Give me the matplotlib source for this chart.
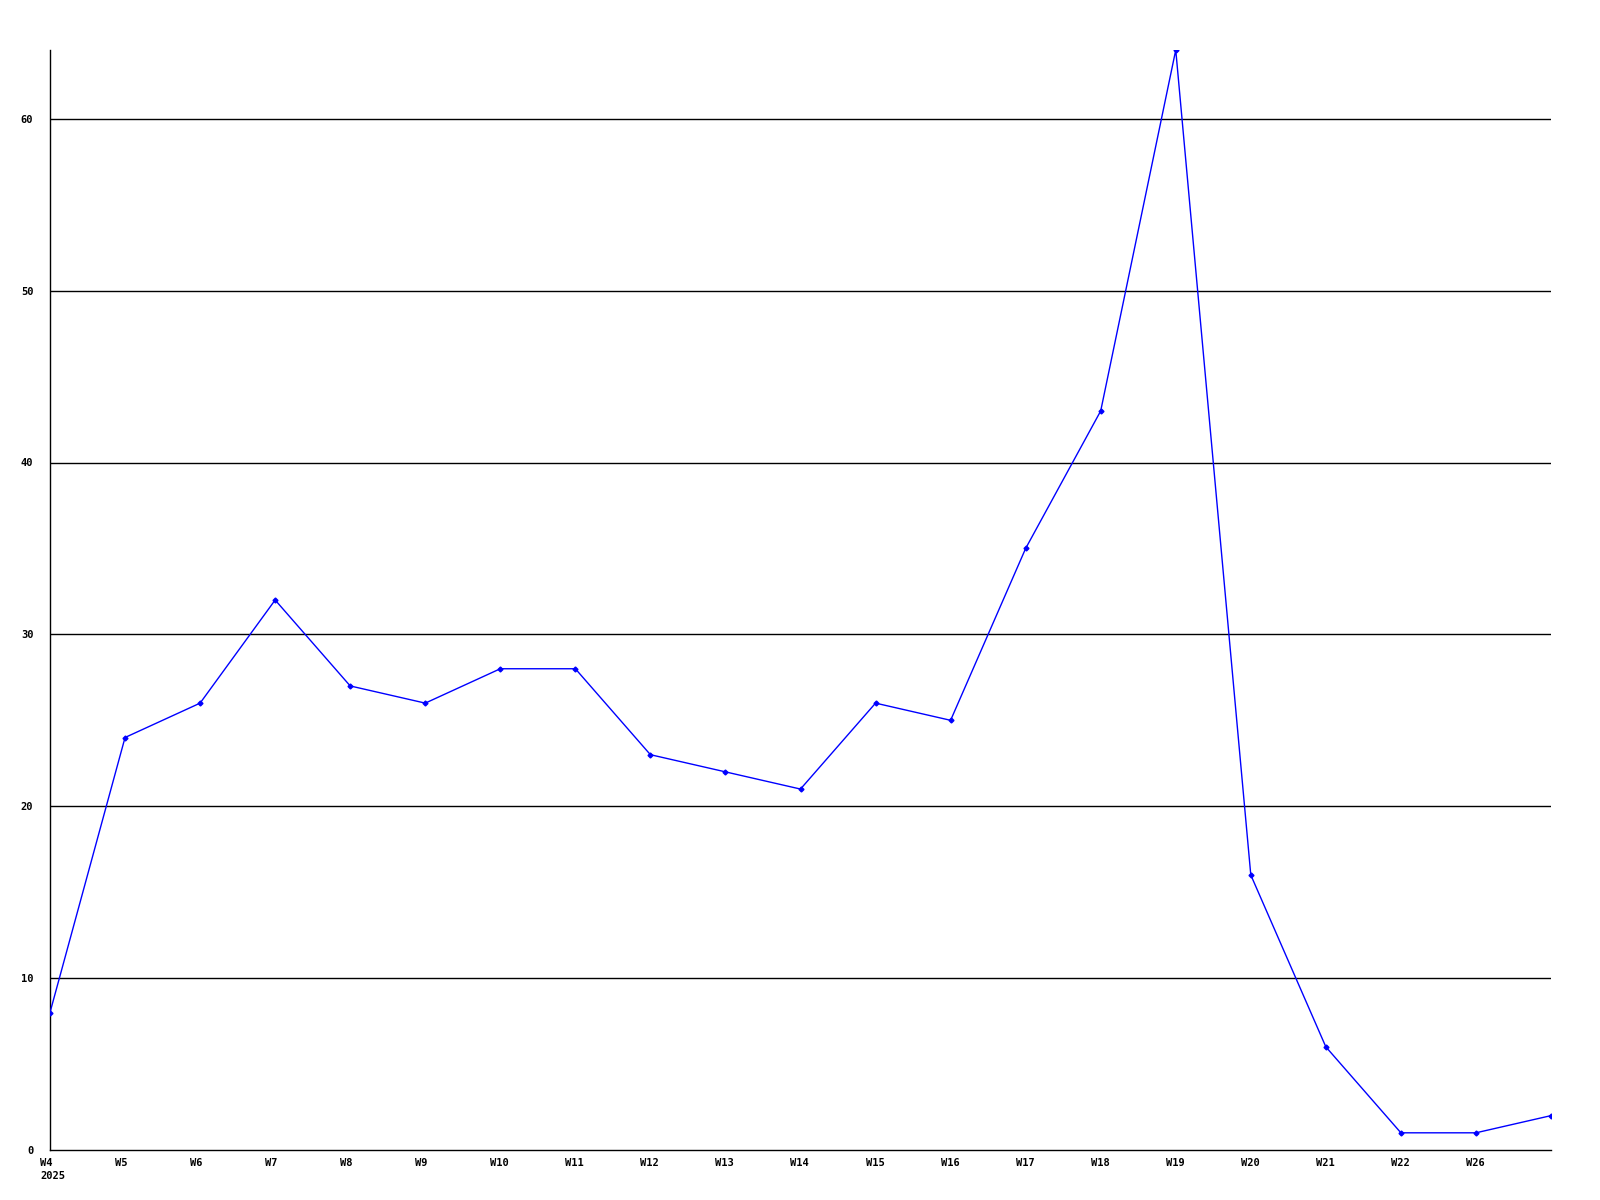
import numpy as np
import matplotlib
matplotlib.use('Agg')
import matplotlib.pyplot as plt
import matplotlib.transforms as mtrans

# Semanas y valores
weeks = ['W4\n2025', 'W5', 'W6', 'W7', 'W8', 'W9', 'W10', 'W11', 'W12', 'W13',
         'W14', 'W15', 'W16', 'W17', 'W18', 'W19', 'W20', 'W21', 'W22', 'W26', '']
values = [8, 24, 26, 32, 27, 26, 28, 28, 23, 22, 21, 26, 25, 35, 43, 64, 16, 6, 1, 1, 2]
yticks = [0, 10, 20, 30, 40, 50, 60]

plt.rcParams['font.family'] = 'DejaVu Sans Mono'
plt.rcParams['font.weight'] = 'bold'

fig = plt.figure(figsize=(16, 12), dpi=100)
ax = fig.add_axes([50 / 1600, 50 / 1200, 1501 / 1600, 1100 / 1200])

x = np.arange(len(values))
ax.plot(x, values, color='#0000ff', linewidth=1.0, marker='D', markersize=2.5,
        markerfacecolor='#0000ff', markeredgecolor='#0000ff', zorder=3)

ax.set_xlim(0, len(values) - 1)
ax.set_ylim(0, 64)

for yv in yticks[1:]:
    ax.axhline(yv, color='black', linewidth=1.0, zorder=1)

ax.set_yticks(yticks)
ax.set_yticklabels([str(v) for v in yticks], fontsize=7.5, fontweight='bold')
ax.set_xticks([])

# etiquetas del eje x, desplazadas 10 px a la izquierda de cada punto
offset = mtrans.ScaledTranslation(-10 / 100, -8 / 100, fig.dpi_scale_trans)
for xi, lab in zip(x, weeks):
    ax.text(xi, 0, lab, transform=ax.get_xaxis_transform() + offset,
            ha='left', va='top', fontsize=7.5, fontweight='bold',
            linespacing=1.35, clip_on=False)

ax.tick_params(axis='both', length=0)
ax.tick_params(axis='y', pad=12)

ax.spines['top'].set_visible(False)
ax.spines['right'].set_visible(False)
ax.spines['left'].set_linewidth(1.0)
ax.spines['bottom'].set_linewidth(1.0)

fig.savefig('out.png', dpi=100)
